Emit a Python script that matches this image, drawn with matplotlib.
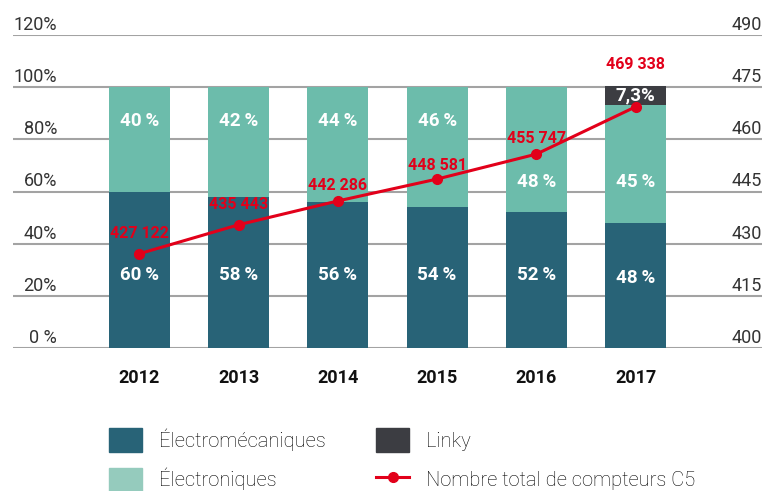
import numpy as np
import matplotlib.pyplot as plt
import matplotlib.patches as patches
import matplotlib.transforms as mtransforms
from matplotlib.lines import Line2D

plt.rcParams['font.family'] = ['Roboto', 'DejaVu Sans']

years = ["2012", "2013", "2014", "2015", "2016", "2017"]
electromeca = [60, 58, 56, 54, 52, 48]
electronique = [40, 42, 44, 46, 48, 45]
linky = [0, 0, 0, 0, 0, 7.3]
total_c5 = [427.122, 435.443, 442.286, 448.581, 455.747, 469.338]  # milliers
total_labels = ["427 122", "435 443", "442 286", "448 581", "455 747", "469 338"]

pct_ticks = [0, 20, 40, 60, 80, 100, 120]
right_ticks = [400, 415, 430, 445, 460, 475, 490]

# where the labels sit inside the bars (% units) and above the points (px)
lab_meca_y = [28, 28, 28, 28, 28, 27]
lab_elec_y = [87, 87, 87, 87, 63.5, 63.5]
lab_line_off = [20, 20, 15, 14, 16, 42]

c_meca = "#286377"
c_elec = "#6cbcab"
c_elec_leg = "#95cbbd"
c_linky = "#3c3d42"
c_red = "#e2001a"
c_tick = "#333333"

fig = plt.figure(figsize=(7.67, 4.91), dpi=100)
ax = fig.add_axes([13 / 767, 1 - 348 / 491, 749 / 767, 313 / 491])
x = np.arange(len(years))
w = 0.615

ax.bar(x, electromeca, w, color=c_meca, zorder=2)
ax.bar(x, electronique, w, bottom=electromeca, color=c_elec, zorder=2)
ax.bar(x, linky, w, bottom=np.add(electromeca, electronique), color=c_linky, zorder=2)

ax.set_ylim(0, 120)
ax.set_xlim(-1.275, 6.275)
for t in pct_ticks:
    ax.axhline(t, color="#a3a3a3", lw=1.5, zorder=1)
for s in ax.spines.values():
    s.set_visible(False)
ax.set_yticks([])
ax.set_xticks(x)
ax.set_xticklabels(years, fontsize=13, fontweight="bold", color="#111111")
ax.tick_params(axis="x", length=0, pad=15)

trans = mtransforms.blended_transform_factory(ax.transAxes, ax.transData)
for t in pct_ticks:
    lab = "0 %" if t == 0 else f"{t}%"
    ax.annotate(lab, (44 / 749, t), xycoords=trans, xytext=(0, 5),
                textcoords="offset pixels", ha="right", va="baseline",
                fontsize=13, fontweight="normal", color=c_tick)

for i in range(len(years)):
    ax.text(x[i], lab_meca_y[i], f"{electromeca[i]}\u2009%", ha="center", va="center",
            color="white", fontsize=13.5, fontweight="bold", zorder=3)
    ax.text(x[i], lab_elec_y[i], f"{electronique[i]}\u2009%", ha="center", va="center",
            color="white", fontsize=13.5, fontweight="bold", zorder=3)
    if linky[i] > 0:
        ax.text(x[i], electromeca[i] + electronique[i] + linky[i] / 2,
                f"{linky[i]:.1f}%".replace(".", ","), ha="center", va="center",
                color="white", fontsize=13.5, fontweight="bold", zorder=3)

ax2 = ax.twinx()
ax2.set_ylim(400, 490)
ax2.set_yticks([])
for s in ax2.spines.values():
    s.set_visible(False)
ax2.plot(x, total_c5, color=c_red, lw=2.2, marker="o", markersize=7, zorder=4)
trans2 = mtransforms.blended_transform_factory(ax2.transAxes, ax2.transData)
for t in right_ticks:
    ax2.annotate(str(t), (1.0, t), xycoords=trans2, xytext=(0, 5),
                 textcoords="offset pixels", ha="right", va="baseline",
                 fontsize=13, fontweight="normal", color=c_tick)
for i in range(len(years)):
    ax2.annotate(total_labels[i], (x[i], total_c5[i]), xytext=(0, lab_line_off[i]),
                 textcoords="offset pixels", ha="center", va="center",
                 color=c_red, fontsize=11.5, fontweight="bold", zorder=5)

handles = [
    patches.Patch(color=c_meca, label="Électromécaniques"),
    patches.Patch(color=c_elec_leg, label="Électroniques"),
    patches.Patch(color=c_linky, label="Linky"),
    Line2D([0], [0], color=c_red, lw=2.2, marker="o", markersize=7,
           label="Nombre total de compteurs C5"),
]
fig.legend(handles=handles, ncol=2, loc="upper left", bbox_to_anchor=(99 / 767, 1 - 418 / 491),
           frameon=False, handlelength=1.64, handleheight=1.44, borderpad=0,
           handletextpad=0.85, columnspacing=2.5, labelspacing=0.78,
           prop={"weight": "light", "size": 14.5})

fig.savefig("out.png", dpi=100)
